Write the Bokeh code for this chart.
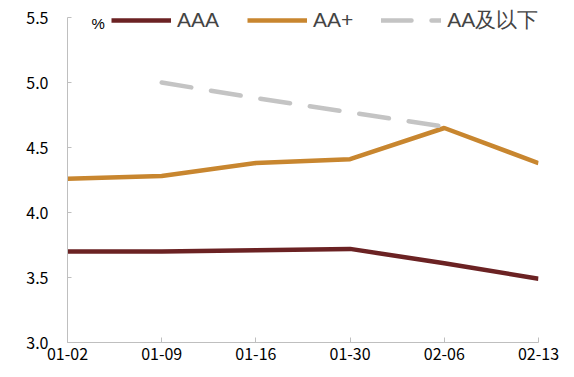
import numpy as np
from bokeh.plotting import figure
from bokeh.models import Range1d, FixedTicker, Legend, LegendItem, Label, ColumnDataSource
from bokeh.embed import file_html
from bokeh.resources import INLINE

dates = ["01-02", "01-09", "01-16", "01-30", "02-06", "02-13"]
aaa = [3.70, 3.70, 3.71, 3.72, 3.61, 3.49]
aa_plus = [4.26, 4.28, 4.38, 4.41, 4.65, 4.38]
aa_below = [np.nan, 5.00, 4.88, 4.77, 4.66, np.nan]
y_ticks = [3.0, 3.5, 4.0, 4.5, 5.0, 5.5]

idx = list(range(len(dates)))
src = ColumnDataSource(dict(x=idx, aaa=aaa, aap=aa_plus, aab=aa_below))

p = figure(width=574, height=377, x_range=Range1d(0, len(dates) - 1),
           y_range=Range1d(y_ticks[0], 3.0 + 338 / 130),
           output_backend="svg", toolbar_location=None,
           min_border_left=67, min_border_right=36, min_border_top=4, min_border_bottom=35)
p.outline_line_color = None
p.xgrid.visible = False
p.ygrid.visible = False
p.background_fill_color = "white"
p.border_fill_color = "white"

r1 = p.line("x", "aaa", source=src, line_color="#6B2223", line_width=4.5)
r2 = p.line("x", "aap", source=src, line_color="#C8862F", line_width=4.5)
r3 = p.line("x", "aab", source=src, line_color="#C4C4C4", line_width=4.5,
            line_dash="30 20", line_cap="round")

axis_color = "#BFBFBF"
tick_font = "Noto Sans CJK SC"

p.xaxis.ticker = FixedTicker(ticks=idx)
p.xaxis.major_label_overrides = {i: d for i, d in zip(idx, dates)}
p.xaxis.minor_tick_line_color = None
p.xaxis.axis_line_color = axis_color
p.xaxis.major_tick_line_color = axis_color
p.xaxis.major_tick_in = 5
p.xaxis.major_tick_out = 0
p.xaxis.major_label_text_font = tick_font
p.xaxis.major_label_text_font_size = "16px"
p.xaxis.major_label_text_color = "black"
p.xaxis.major_label_standoff = 5

p.yaxis.ticker = FixedTicker(ticks=y_ticks)
p.yaxis.bounds = (y_ticks[0], y_ticks[-1])
p.yaxis.major_label_overrides = {t: f"{t:.1f}" for t in y_ticks}
p.yaxis.minor_tick_line_color = None
p.yaxis.axis_line_color = axis_color
p.yaxis.major_tick_line_color = axis_color
p.yaxis.major_tick_in = 4
p.yaxis.major_tick_out = 0
p.yaxis.major_label_text_font = tick_font
p.yaxis.major_label_text_font_size = "16px"
p.yaxis.major_label_text_color = "black"
p.yaxis.major_label_standoff = 19

legend = Legend(items=[LegendItem(label="AAA", renderers=[r1]),
                       LegendItem(label="AA+", renderers=[r2]),
                       LegendItem(label="AA及以下", renderers=[r3])],
                location=(44, 308), orientation="horizontal",
                glyph_width=60, glyph_height=20, label_height=20,
                label_standoff=6, spacing=28, padding=0, margin=0,
                label_text_font="Liberation Sans", label_text_font_size="21px",
                background_fill_alpha=0, border_line_color=None)
p.add_layout(legend, "center")

p.add_layout(Label(x=24, y=311, x_units="screen", y_units="screen", text="%",
                   text_font="Liberation Sans", text_font_size="15px",
                   text_color="black"))

open("out.html", "w").write(file_html(p, INLINE))
